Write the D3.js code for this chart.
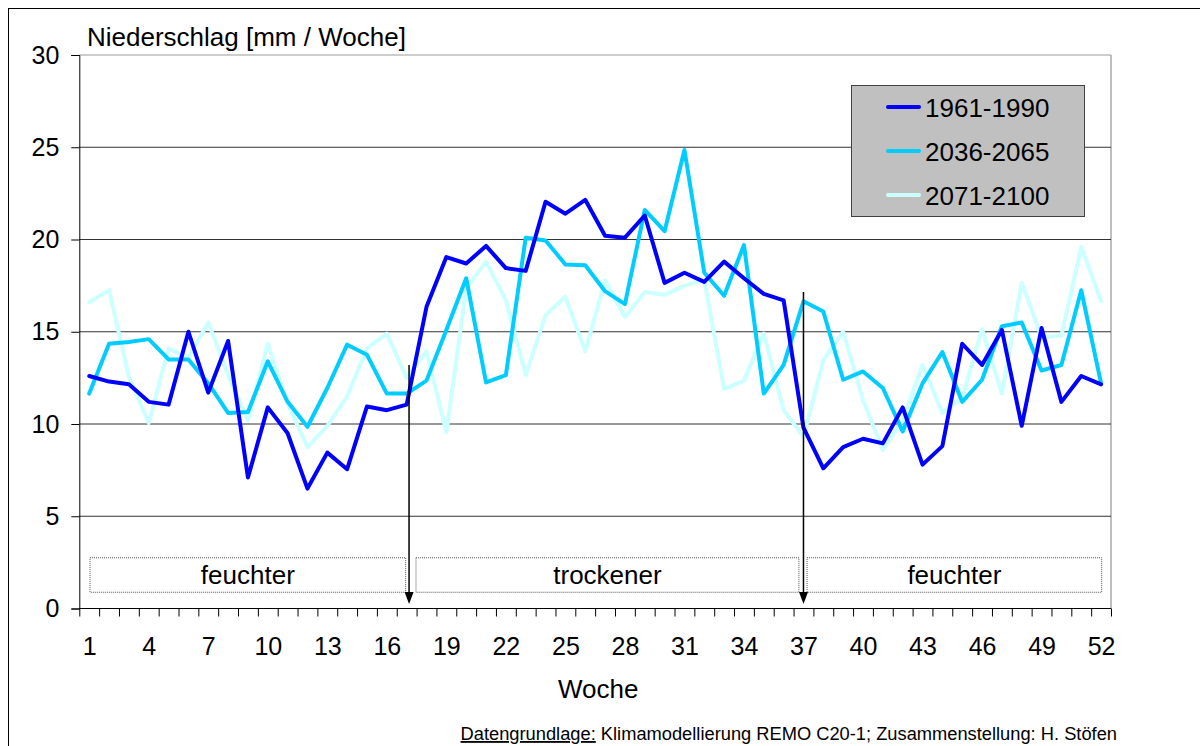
<!DOCTYPE html>
<html>
<head>
<meta charset="utf-8">
<script src="https://cdn.jsdelivr.net/npm/d3@7"></script>
<style>
  body { margin: 0; background: #fff; }
  svg { display: block; font-family: "Liberation Sans", Arial, sans-serif; }
</style>
</head>
<body>
<script>
var weeks = [1,2,3,4,5,6,7,8,9,10,11,12,13,14,15,16,17,18,19,20,21,22,23,24,25,26,
             27,28,29,30,31,32,33,34,35,36,37,38,39,40,41,42,43,44,45,46,47,48,49,50,51,52];
var xTickLabels = [1,4,7,10,13,16,19,22,25,28,31,34,37,40,43,46,49,52];
var yTicks = [0,5,10,15,20,25,30];

var series_names = ["1961-1990", "2036-2065", "2071-2100"];
var series_colors = ["#0000ff", "#00ccff", "#ccffff"];

var p1961 = [12.6,12.3,12.15,11.2,11.05,15.0,11.7,14.5,7.1,10.9,
             9.5,6.5,8.45,7.55,10.95,10.75,11.05,16.35,19.05,18.7,
             19.65,18.45,18.3,22.05,21.4,22.15,20.2,20.1,21.3,17.65,
             18.2,17.7,18.8,17.9,17.05,16.7,9.8,7.6,8.75,9.2,
             8.95,10.9,7.8,8.8,14.35,13.2,15.1,9.9,15.2,11.2,
             12.6,12.15];
var p2036 = [11.65,14.35,14.45,14.6,13.5,13.5,12.2,10.6,10.65,13.4,
             11.2,9.85,11.95,14.3,13.75,11.65,11.65,12.35,15.1,17.9,
             12.25,12.65,20.1,19.95,18.65,18.6,17.2,16.5,21.6,20.45,
             24.85,18.2,16.95,19.7,11.65,13.2,16.65,16.1,12.4,12.85,
             11.95,9.6,12.2,13.9,11.2,12.4,15.3,15.5,12.9,13.2,
             17.25,12.2];
var p2071 = [16.6,17.25,12.55,10.05,14.1,13.6,15.5,12.65,10.2,14.35,
             11.1,8.75,9.9,11.5,14.1,14.9,12.5,13.95,9.55,17.35,
             18.8,16.7,12.65,15.9,16.9,13.95,17.8,15.8,17.15,17.0,
             17.5,17.8,11.9,12.35,14.9,10.75,9.3,13.45,15.0,11.3,
             8.6,10.2,13.2,10.6,11.4,15.15,11.65,17.65,14.7,14.8,
             19.6,16.65];

// annotation bands (week from, week to, label) and arrows (week, top value)
var regions = [[1.04, 16.95, "feuchter"], [17.47, 36.77, "trockener"], [37.18, 52.03, "feuchter"]];
var arrows = [[17.12, 13.2], [37.0, 17.15]];

var width = 1200, height = 746;
var plotLeft = 79.3, plotRight = 1111, plotTop = 55, plotBottom = 608.5;

var svg = d3.select("body").append("svg").attr("width", width).attr("height", height);

// outer frame
svg.append("rect").attr("x", 8.5).attr("y", 8.5).attr("width", 1300).attr("height", 1000)
    .attr("fill", "#fff").attr("stroke", "#000").attr("stroke-width", 1);

var x = d3.scaleLinear().domain([0.5, 52.5]).range([plotLeft, plotRight]);
var y = d3.scaleLinear().domain([0, 30]).range([plotBottom, plotTop]);

// plot border top/right
svg.append("line").attr("x1", plotLeft).attr("x2", plotRight).attr("y1", plotTop).attr("y2", plotTop)
    .attr("stroke", "#bdbdbd").attr("stroke-width", 1.5);
svg.append("line").attr("x1", plotRight).attr("x2", plotRight).attr("y1", plotTop).attr("y2", plotBottom)
    .attr("stroke", "#a8a8a8").attr("stroke-width", 1.5);

// gridlines
svg.selectAll("line.grid")
    .data(yTicks.filter(function(d) { return d > 0 && d < 30; }))
    .enter().append("line")
    .attr("class", "grid")
    .attr("x1", plotLeft).attr("x2", plotRight)
    .attr("y1", function(d) { return y(d); })
    .attr("y2", function(d) { return y(d); })
    .attr("stroke", "#333").attr("stroke-width", 1);

// y axis
var yAxis = svg.append("g").attr("transform", "translate(" + plotLeft + ",0)")
    .call(d3.axisLeft(y).tickValues(yTicks).tickSize(8).tickPadding(12).tickFormat(d3.format("d")));
yAxis.select(".domain").attr("stroke", "#000");
yAxis.selectAll("text").attr("font-size", 25).attr("fill", "#000")
    .attr("font-family", "Liberation Sans, Arial, sans-serif");

// x axis: ticks at week boundaries
var bounds = weeks.map(function(d) { return d - 0.5; }).concat([52.5]);
var xAxis = svg.append("g").attr("transform", "translate(0," + plotBottom + ")")
    .call(d3.axisBottom(x).tickValues(bounds).tickSize(8).tickFormat(""));
xAxis.select(".domain").attr("stroke", "#000").attr("d", "M" + plotLeft + ",0H" + plotRight);

var xLabels = svg.append("g").attr("transform", "translate(0," + plotBottom + ")")
    .call(d3.axisBottom(x).tickValues(xTickLabels).tickSize(0).tickPadding(29));
xLabels.select(".domain").remove();
xLabels.selectAll("text").attr("font-size", 25).attr("fill", "#000")
    .attr("font-family", "Liberation Sans, Arial, sans-serif");

// annotation boxes
regions.forEach(function(r) {
    svg.append("rect")
        .attr("x", x(r[0])).attr("y", y(2.75))
        .attr("width", x(r[1]) - x(r[0])).attr("height", y(0.88) - y(2.75))
        .attr("fill", "none").attr("stroke", "#555").attr("stroke-width", 1)
        .attr("stroke-dasharray", "1,1");
    svg.append("text")
        .attr("x", (x(r[0]) + x(r[1])) / 2).attr("y", y(1.8) + 9)
        .attr("text-anchor", "middle").attr("font-size", 26)
        .text(r[2]);
});

// series
var line = d3.line()
    .x(function(d, i) { return x(weeks[i]); })
    .y(function(d) { return y(d); });

var all = [p1961, p2036, p2071];
[2, 1, 0].forEach(function(k) {
    svg.append("path")
        .datum(all[k])
        .attr("d", line)
        .attr("fill", "none")
        .attr("stroke", series_colors[k])
        .attr("stroke-width", 4)
        .attr("stroke-linejoin", "round")
        .attr("stroke-linecap", "round");
});

// arrows
arrows.forEach(function(a) {
    var ax = x(a[0]);
    svg.append("line")
        .attr("x1", ax).attr("x2", ax)
        .attr("y1", y(a[1])).attr("y2", 593)
        .attr("stroke", "#000").attr("stroke-width", 1.5);
    svg.append("path")
        .attr("d", "M" + (ax - 4.5) + ",592L" + (ax + 4.5) + ",592L" + ax + ",604Z")
        .attr("fill", "#000");
});

// legend
var lg = svg.append("g");
lg.append("rect").attr("x", 851.5).attr("y", 85.5).attr("width", 233).attr("height", 131)
    .attr("fill", "#c0c0c0").attr("stroke", "#404040").attr("stroke-width", 1);
series_names.forEach(function(name, i) {
    var ly = 107 + i * 44;
    lg.append("line").attr("x1", 888).attr("x2", 919).attr("y1", ly).attr("y2", ly)
        .attr("stroke", series_colors[i]).attr("stroke-width", 4).attr("stroke-linecap", "round");
    lg.append("text").attr("x", 925).attr("y", ly + 9.5).attr("font-size", 26).text(name);
});

// title and axis label
svg.append("text").attr("x", 87).attr("y", 46).attr("font-size", 26).text("Niederschlag [mm / Woche]");
svg.append("text").attr("x", (plotLeft + plotRight) / 2 + 3).attr("y", 698)
    .attr("text-anchor", "middle").attr("font-size", 26).text("Woche");

// source note
var src = svg.append("text").attr("x", 1117).attr("y", 740)
    .attr("text-anchor", "end").attr("font-size", 18.3);
src.append("tspan").attr("text-decoration", "underline").text("Datengrundlage:");
src.append("tspan").text(" Klimamodellierung REMO C20-1; Zusammenstellung: H. Stöfen");
</script>
</body>
</html>
